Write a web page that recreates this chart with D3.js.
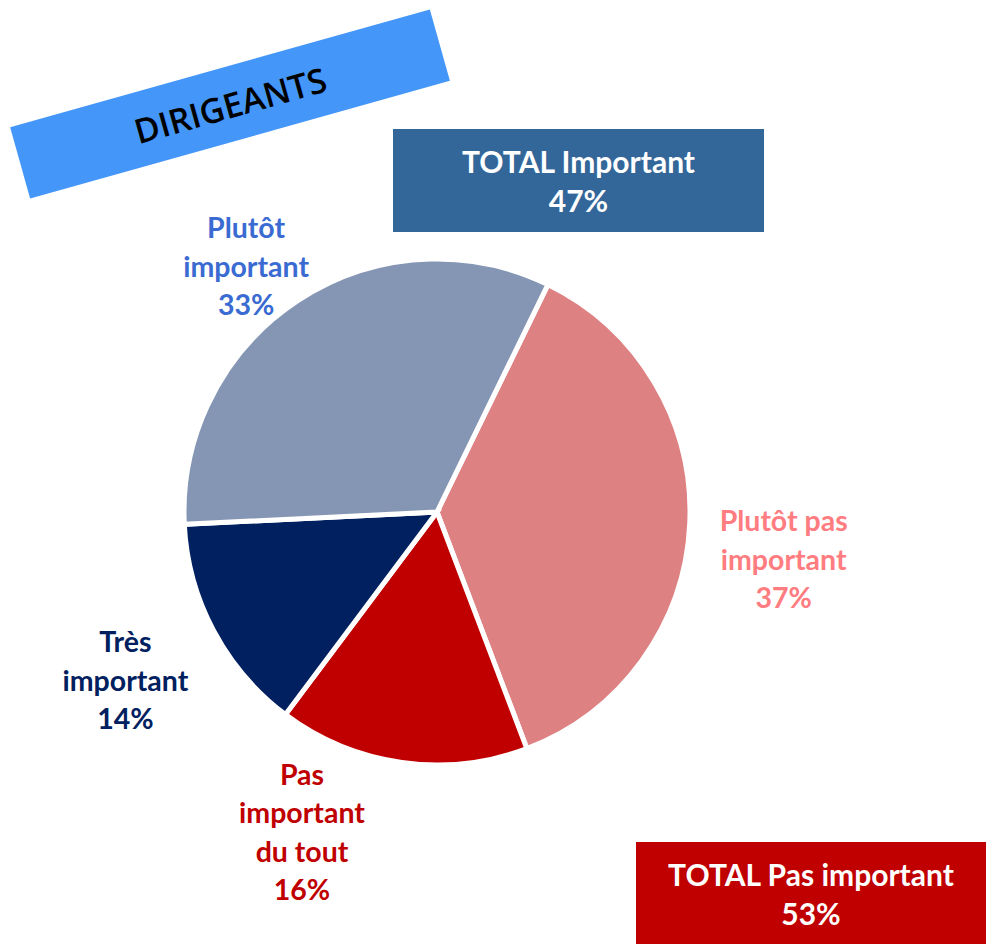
<!DOCTYPE html>
<html>
<head>
<meta charset="utf-8">
<script src="https://cdn.jsdelivr.net/npm/d3@7"></script>
<style>
  body { margin: 0; background: #fff; }
  svg text { font-family: Lato, "Open Sans", sans-serif; font-weight: bold; }
</style>
</head>
<body>
<svg id="chart"></svg>
<script>
// data, in pie order (clockwise from the top-right cut)
const categories = ['Plutôt pas important', 'Pas important du tout', 'Très important', 'Plutôt important'];
const values = [37, 16, 14, 33];
const labelLines = [['Plutôt pas', 'important'], ['Pas', 'important', 'du tout'], ['Très', 'important'], ['Plutôt', 'important']];
const sliceColors = ['#DE8182', '#C00000', '#002060', '#8596B4'];
const labelColors = ['#FF7C80', '#C00000', '#002060', '#3A6BD2'];
const totals = [{name: 'TOTAL Important', value: 47}, {name: 'TOTAL Pas important', value: 53}];
const segment = 'DIRIGEANTS';

const width = 986, height = 944;
const svg = d3.select('#chart').attr('width', width).attr('height', height);

const cx = 437, cy = 512, radius = 253;
const startAngle = 26 * Math.PI / 180;

const pie = d3.pie().sort(null).value(d => d.value)
    .startAngle(startAngle).endAngle(startAngle + 2 * Math.PI);
const arc = d3.arc().innerRadius(0).outerRadius(radius);

const data = categories.map((c, i) => ({name: c, value: values[i], lines: labelLines[i], i: i}));

const chart = svg.append('g').attr('transform', `translate(${cx},${cy})`);

chart.selectAll('path')
    .data(pie(data))
    .enter()
    .append('path')
    .attr('d', arc)
    .attr('fill', d => sliceColors[d.data.i])
    .attr('stroke', 'white')
    .style('stroke-width', '5px')
    .style('stroke-linejoin', 'miter');

// labels sit outside the pie, pushed out along the slice mid angle
const labelArc = d3.arc().innerRadius(345).outerRadius(345);
const nudge = [[2, 32], [-87, -21], [-7, 7], [-1, 43]];
const lineH = 38.5;

const labels = chart.selectAll('g.lbl')
    .data(pie(data))
    .enter()
    .append('g')
    .attr('class', 'lbl')
    .attr('transform', d => {
        const c = labelArc.centroid(d);
        const n = nudge[d.data.i];
        return `translate(${c[0] + n[0]},${c[1] + n[1]})`;
    });

labels.each(function(d) {
    const g = d3.select(this);
    const lines = d.data.lines.concat([d.data.value + '%']);
    const top = -(lines.length - 1) * lineH / 2;
    lines.forEach((t, k) => {
        g.append('text')
            .attr('x', 0)
            .attr('y', top + k * lineH)
            .attr('dy', '0.35em')
            .attr('text-anchor', 'middle')
            .attr('fill', labelColors[d.data.i])
            .style('font-size', '28.5px')
            .text(t);
    });
});

// total boxes
const boxes = [
    {x: 393, y: 129, w: 371, h: 103, fill: '#336699'},
    {x: 636, y: 842, w: 352, h: 104, fill: '#C00000'}
];
totals.forEach((t, i) => {
    const b = boxes[i];
    const g = svg.append('g');
    g.append('rect').attr('x', b.x).attr('y', b.y).attr('width', b.w).attr('height', b.h).attr('fill', b.fill);
    [t.name, t.value + '%'].forEach((s, k) => {
        g.append('text')
            .attr('x', b.x + b.w / 2 - (i === 1 ? 1 : 0))
            .attr('y', b.y + 33 + k * 39)
            .attr('dy', '0.35em')
            .attr('text-anchor', 'middle')
            .attr('fill', 'white')
            .style('font-size', '30px')
            .text(s);
    });
});

// rotated segment banner
const banner = svg.append('g').attr('transform', 'translate(230,104) rotate(-15.7)');
banner.append('rect')
    .attr('x', -218).attr('y', -37).attr('width', 436).attr('height', 74)
    .attr('fill', '#4496F8');
banner.append('text')
    .attr('x', 0).attr('y', 2)
    .attr('dy', '0.35em')
    .attr('text-anchor', 'middle')
    .attr('fill', 'black')
    .style('font-size', '34px')
    .style('font-family', '"Open Sans", sans-serif')
    .style('font-weight', '600')
    .text(segment);
</script>
</body>
</html>
